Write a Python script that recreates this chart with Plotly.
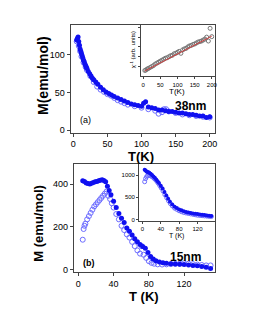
import plotly.graph_objects as go

# Panel (a) 38nm: M vs T
ta_fill = [5,6,7,8,9,10,11,12,13,14,15,16,17,18,19,20,22,24,26,28,30,33,36,40,44,48,52,56,60,65,70,75,80,85,90,95,100,103,106,110,115,120,125,130,135,140,145,150,155,160,165,170,175,180,185,190,195,200]
ma_fill = [120,122,124,118,113,108,105,102,99,96,93,91,88,86,84,82,78,75,72,69,67,64,61,57,54,51,49,47,45,43,41,39,37,35,34,33,32,36,38,31,30,29,27,27,26,25,25,24,23,23,22,21,21,20,19,19,17,18]
ta_open = [5,8,10,12,15,18,20,25,30,35,40,45,50,55,60,65,70,75,80,90,100,110,120,125,130,133,136,140,150,160,170,180,190,200]
ma_open = [118,112,105,98,90,84,80,72,64,58,54,51,48,46,43,40,38,36,34,32,30,28,26,22,24,28,28,25,23,21,20,19,18,17]

# Inset (a): inverse susceptibility
ti_a = [5,8,12,15,20,25,30,35,40,45,50,55,60,65,70,75,80,85,90,95,100,105,110,115,120,125,130,135,140,145,150,155,160,165,170,175,180,185,190,195,200]
chi_a = [0.12,0.13,0.15,0.16,0.18,0.20,0.22,0.25,0.27,0.29,0.31,0.33,0.35,0.37,0.38,0.40,0.42,0.43,0.46,0.47,0.49,0.51,0.47,0.54,0.56,0.57,0.60,0.62,0.63,0.65,0.66,0.68,0.70,0.71,0.72,0.74,0.76,0.80,0.72,0.98,0.81]
fit_t = [5,200]
fit_chi = [0.11,0.82]

# Panel (b) 15nm
tb_fill = [5,7,9,11,13,15,17,19,21,23,25,27,29,31,33,35,37,40,43,46,49,52,55,58,61,64,67,70,73,76,79,82,85,88,92,96,100,105,110,115,120,125,130,135,140,145,150]
mb_fill = [415,412,405,402,400,403,407,410,412,415,418,420,416,410,390,370,350,320,290,262,240,220,195,180,162,145,130,118,108,100,80,62,50,42,36,32,30,28,27,25,24,22,20,18,15,12,6]
tb_open = [5,6,7,8,10,12,14,16,18,20,22,24,26,28,30,32,34,36,38,40,43,46,49,52,55,58,61,64,67,70,72,74,77,80,83,86,90,95,100,105,110,115,120,125,130,135,140,145,150]
mb_open = [140,190,205,215,235,250,265,280,295,305,315,325,335,345,355,365,345,330,310,290,260,235,205,185,165,150,130,110,90,75,110,70,55,40,32,28,25,24,25,26,27,28,30,28,26,24,22,20,20]

# Inset (b)
ti_b_fill = [5,7,9,11,13,15,18,21,24,27,30,33,36,40,44,48,52,56,60,65,70,75,80,85,90,95,100,105,110,115,120,125,130,135,140,145,150]
mi_b_fill = [1120,1100,1080,1070,1060,1050,1030,1000,970,940,900,860,820,760,700,620,540,470,400,340,290,260,230,210,190,175,160,150,140,135,125,115,110,105,95,90,85]
ti_b_open = [5,7,9,11,14,17,20,23,26,29,32,35,38,41,45,49,53,57,61,65,70,75,80,85,90,95,100,105,110,115,120,125,130,135,140,145,150]
mi_b_open = [850,920,960,980,990,985,970,950,920,890,850,810,760,710,640,560,490,420,360,310,260,230,200,180,160,150,140,130,120,110,100,95,90,85,80,75,70]

BLUE = "#1010f0"
LBLUE = "#6c6cff"
FONT = "Liberation Sans"

fig = go.Figure()
mk_fill = dict(color=BLUE, size=5, symbol="circle")

fig.add_trace(go.Scatter(x=ta_open, y=ma_open, mode="markers", marker=dict(color=LBLUE, size=5, symbol="circle-open"), xaxis="x", yaxis="y"))
fig.add_trace(go.Scatter(x=ta_fill, y=ma_fill, mode="markers", marker=mk_fill, xaxis="x", yaxis="y"))
fig.add_trace(go.Scatter(x=ti_a, y=chi_a, mode="markers", marker=dict(color="#777777", size=4, symbol="circle-open"), xaxis="x2", yaxis="y2"))
fig.add_trace(go.Scatter(x=fit_t, y=fit_chi, mode="lines", line=dict(color="#d04040", width=1), xaxis="x2", yaxis="y2"))
fig.add_trace(go.Scatter(x=tb_open, y=mb_open, mode="markers", marker=dict(color=LBLUE, size=5, symbol="circle-open"), xaxis="x3", yaxis="y3"))
fig.add_trace(go.Scatter(x=tb_fill, y=mb_fill, mode="markers", marker=mk_fill, xaxis="x3", yaxis="y3"))
fig.add_trace(go.Scatter(x=ti_b_open, y=mi_b_open, mode="markers", marker=dict(color=LBLUE, size=4, symbol="circle-open"), xaxis="x4", yaxis="y4"))
fig.add_trace(go.Scatter(x=ti_b_fill, y=mi_b_fill, mode="markers", marker=dict(color=BLUE, size=4), xaxis="x4", yaxis="y4"))

W, H = 255, 330
def dx(a, b): return [a / W, b / W]
def dy(top, bot): return [1 - bot / H, 1 - top / H]

ax = dict(showline=True, linecolor="#444", linewidth=1, mirror=True, ticks="outside", ticklen=3,
          tickcolor="#444", showgrid=False, zeroline=False, tickfont=dict(family=FONT, size=9, color="black"))
axi = dict(ax, tickfont=dict(family=FONT, size=6, color="black"), ticklen=2)

fig.update_layout(
    width=W, height=H, margin=dict(l=0, r=0, t=0, b=0), showlegend=False,
    paper_bgcolor="white", plot_bgcolor="white",
    xaxis=dict(ax, domain=dx(63.3, 209), range=[-4, 207], tickvals=[0, 50, 100, 150, 200], anchor="y"),
    yaxis=dict(ax, domain=dy(17, 125.7), range=[-3, 140], tickvals=[0, 50, 100], anchor="x"),
    xaxis2=dict(axi, domain=dx(135, 209), range=[-5, 208], tickvals=[0, 50, 100, 150, 200], anchor="y2"),
    yaxis2=dict(axi, domain=dy(17, 69), range=[0, 1.05], tickvals=[0.2, 0.4, 0.6, 0.8, 1.0], showticklabels=False, anchor="x2"),
    xaxis3=dict(ax, domain=dx(66.7, 209), range=[-5, 154.5], tickvals=[0, 40, 80, 120], anchor="y3"),
    yaxis3=dict(ax, domain=dy(157.3, 266.7), range=[-12, 494], tickvals=[0, 200, 400], anchor="x3"),
    xaxis4=dict(axi, domain=dx(132.7, 209), range=[-7, 157], tickvals=[0, 40, 80, 120], anchor="y4"),
    yaxis4=dict(axi, domain=dy(157.3, 215), range=[-30, 1250], tickvals=[0, 500, 1000], anchor="x4"),
)

def txt(x, y, s, size, bold=True, angle=0):
    fig.add_annotation(x=x / W, y=1 - y / H, xref="paper", yref="paper", text=(f"<b>{s}</b>" if bold else s),
                       showarrow=False, textangle=angle, font=dict(family=FONT, size=size, color="black"),
                       xanchor="center", yanchor="middle")

txt(36, 68, "M(emu/mol)", 14, angle=-90)
txt(135, 150, "T(K)", 13)
txt(185, 99, "38nm", 12)
txt(78, 113, "(a)", 9, bold=False)
txt(171, 84, "T(K)", 8, bold=False)
txt(126, 42, "χ<sup>-1</sup> (arb. units)", 6, bold=False, angle=-90)
txt(30, 217, "M (emu/mol)", 13, angle=-90)
txt(138, 291, "T (K)", 13)
txt(180, 251, "15nm", 12)
txt(82, 257, "(b)", 9)
txt(171, 230, "T (K)", 7, bold=False)

fig.write_html("out.html")
